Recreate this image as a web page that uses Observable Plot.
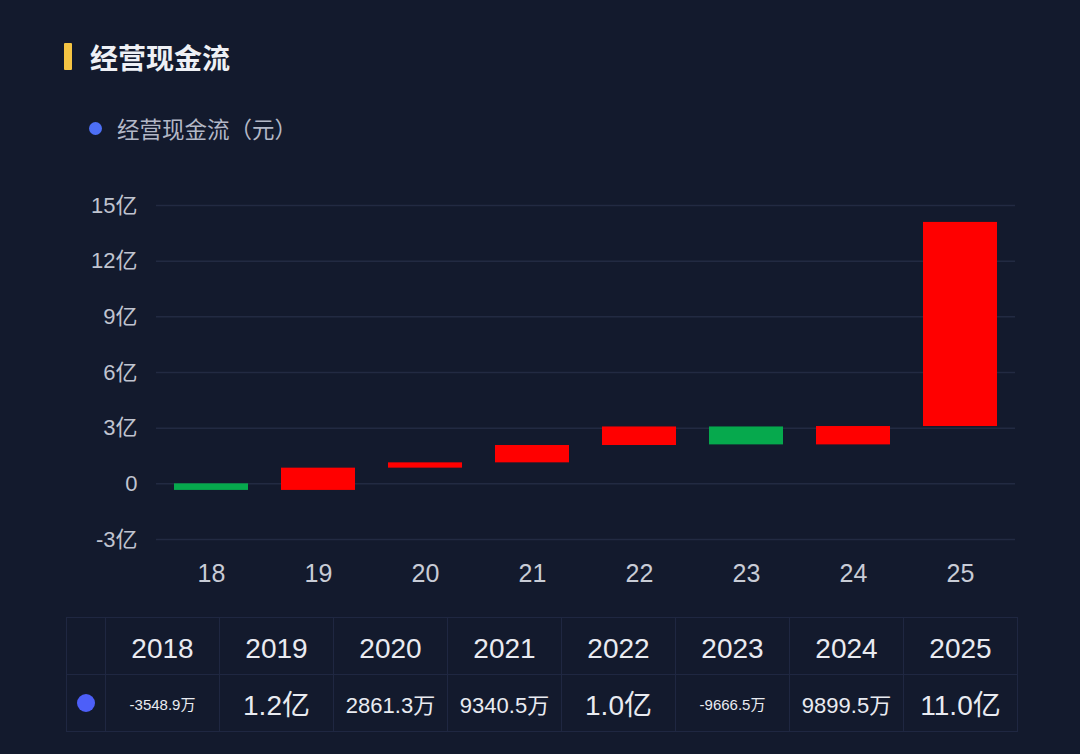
<!DOCTYPE html>
<html>
<head>
<meta charset="utf-8">
<script src="https://cdn.jsdelivr.net/npm/d3@7"></script>
<script src="https://cdn.jsdelivr.net/npm/@observablehq/plot@0.6"></script>
<style>
  html, body { margin: 0; padding: 0; background: #131a2d; width: 1080px; height: 754px; overflow: hidden; }
  body { position: relative; font-family: "Liberation Sans", "Noto Sans CJK SC", sans-serif; }
  #titlebar { position: absolute; left: 64px; top: 43px; width: 8px; height: 27px; background: #f5c443; border-radius: 1px; }
  #title { position: absolute; left: 90px; top: 38px; font-size: 28px; font-weight: bold; color: #eef0f5; font-family: "Noto Sans CJK SC", sans-serif; line-height: 38px; }
  #legend { position: absolute; left: 89px; top: 112px; display: flex; align-items: center; color: #b3b8c7; font-size: 22.5px; font-family: "Noto Sans CJK SC", sans-serif; }
  #legend .dot { width: 13px; height: 13px; border-radius: 50%; background: #4d6ff5; margin-right: 15px; }
  #chart { position: absolute; left: 0; top: 180px; }
  #table { position: absolute; left: 66px; top: 617px; border-collapse: collapse; color: #e9ebf1; }
  #table td { border: 1px solid #1f2741; text-align: center; padding: 0; }
  #table tr.h td { height: 57px; font-size: 28px; padding-top: 6px; box-sizing: border-box; }
  #table tr.v td { height: 56px; }
  #table .dotc { width: 38px; }
  #table .yc { width: 113px; }
  .vdot { display: inline-block; width: 18px; height: 18px; border-radius: 50%; background: #4d5ff8; vertical-align: middle; }
</style>
</head>
<body>
<div id="titlebar"></div>
<div id="title">经营现金流</div>
<div id="legend"><span class="dot"></span><span>经营现金流（元）</span></div>
<div id="chart"></div>
<table id="table"></table>
<script>
// Data (units: 亿元)
const years = ["2018", "2019", "2020", "2021", "2022", "2023", "2024", "2025"];
const values = [-0.35489, 1.2, 0.28613, 0.93405, 1.0, -0.96665, 0.98995, 11.0];
const valueLabels = ["-3548.9万", "1.2亿", "2861.3万", "9340.5万", "1.0亿", "-9666.5万", "9899.5万", "11.0亿"];
const yTicks = [-3, 0, 3, 6, 9, 12, 15];

// Waterfall: each bar spans from previous cumulative total to new total
let running = 0;
const rows = years.map((year, i) => {
  const start = running;
  running += values[i];
  return { year, start, end: running, value: values[i] };
});

const plot = Plot.plot({
  width: 1080,
  height: 430,
  marginLeft: 156,
  marginRight: 65,
  marginTop: 25,
  marginBottom: 71,
  style: { background: "transparent", color: "#c0c4d0", fontFamily: "'Liberation Sans', 'Noto Sans CJK SC', sans-serif" },
  x: { domain: years, paddingInner: 0.31, paddingOuter: 0.155, label: null },
  y: { domain: [-3, 15], label: null },
  marks: [
    Plot.ruleY(yTicks, { stroke: "#222a42", strokeWidth: 1.5 }),
    Plot.barY(rows, {
      x: "year",
      y1: "start",
      y2: "end",
      fill: d => d.value >= 0 ? "#ff0000" : "#06a94d"
    }),
    Plot.axisY(yTicks, {
      tickSize: 0,
      tickPadding: 19,
      fontSize: 22,
      fill: "#c0c4d0",
      tickFormat: d => d === 0 ? "0" : d + "亿"
    }),
    Plot.axisX({
      tickSize: 0,
      tickPadding: 25,
      fontSize: 25,
      fill: "#c8ccd6",
      tickFormat: d => d.slice(2)
    })
  ]
});
document.getElementById("chart").appendChild(plot);

// Table below chart
const table = document.getElementById("table");
const hr = document.createElement("tr");
hr.className = "h";
const c0 = document.createElement("td");
c0.className = "dotc";
hr.appendChild(c0);
years.forEach(y => {
  const td = document.createElement("td");
  td.className = "yc";
  td.textContent = y;
  hr.appendChild(td);
});
table.appendChild(hr);
const vr = document.createElement("tr");
vr.className = "v";
const d0 = document.createElement("td");
d0.className = "dotc";
d0.innerHTML = '<span class="vdot"></span>';
vr.appendChild(d0);
valueLabels.forEach(v => {
  const td = document.createElement("td");
  td.className = "yc";
  td.textContent = v;
  const len = v.length;
  td.style.fontSize = len <= 5 ? "28px" : (len <= 7 ? "22px" : "15px");
  vr.appendChild(td);
});
table.appendChild(vr);
</script>
</body>
</html>
